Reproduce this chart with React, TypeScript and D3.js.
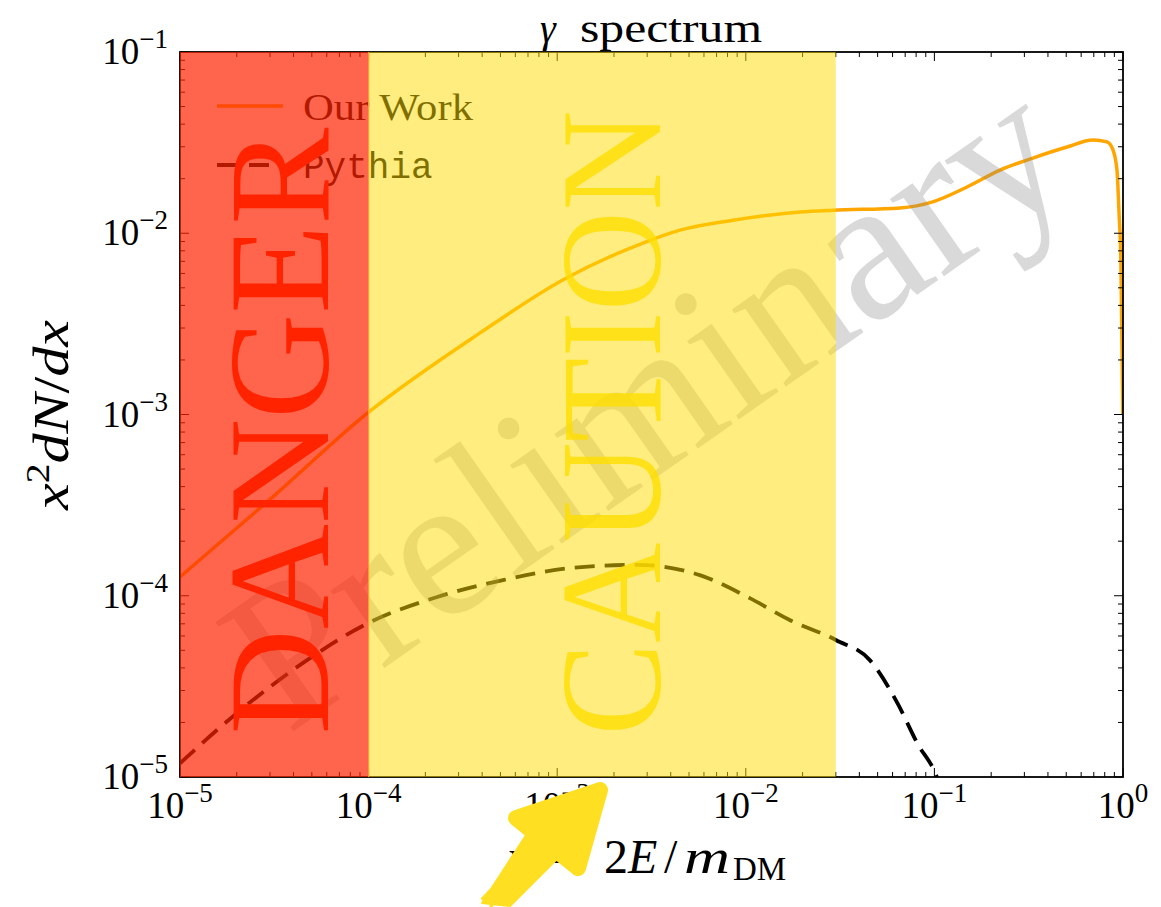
import React from "react";
import * as d3 from "d3";

// Photon spectrum, x^2 dN/dx against x = 2E/m_DM
const ourWorkX = [1e-5, 3e-5, 1e-4, 3.9e-4, 1.07e-3, 2.85e-3, 4.48e-3, 8.55e-3, 1.94e-2, 2.9e-2, 6.58e-2, 9.8e-2, 0.149, 0.223, 0.333, 0.505, 0.693, 0.822, 0.885, 0.929, 0.953, 0.975, 0.998];
const ourWorkY = [1.27e-4, 3.4e-4, 1.03e-3, 2.82e-3, 5.52e-3, 8.83e-3, 1.04e-2, 1.18e-2, 1.31e-2, 1.34e-2, 1.38e-2, 1.49e-2, 1.8e-2, 2.23e-2, 2.6e-2, 2.99e-2, 3.27e-2, 3.19e-2, 2.88e-2, 2.23e-2, 1.29e-2, 6.86e-3, 1.0e-3];

const pythiaX = [1e-5, 2e-5, 4.49e-5, 1e-4, 2.31e-4, 5.16e-4, 1.17e-3, 2.65e-3, 5.7e-3, 1.05e-2, 1.71e-2, 3.0e-2, 4.56e-2, 6.4e-2, 8.1e-2, 0.103, 0.115];
const pythiaY = [1.19e-5, 2.25e-5, 4.26e-5, 7.08e-5, 9.84e-5, 1.22e-4, 1.42e-4, 1.48e-4, 1.3e-4, 9.7e-5, 7.35e-5, 5.7e-5, 4.4e-5, 2.53e-5, 1.54e-5, 1.0e-5, 7e-6];

const xTickValues = [1e-5, 1e-4, 1e-3, 1e-2, 1e-1, 1];
const xTickExponents = ["−5", "−4", "−3", "−2", "−1", "0"];
const yTickValues = [1e-5, 1e-4, 1e-3, 1e-2, 1e-1];
const yTickExponents = ["−5", "−4", "−3", "−2", "−1"];

// shaded bands [from, to]
const dangerBand = [1e-5, 1e-4];
const cautionBand = [1e-4, 3e-2];

const W = 1161;
const H = 907;
const left = 180;
const right = 1123;
const top = 52;
const bottom = 777;

const serif = "'Liberation Serif', 'Times New Roman', serif";
const mono = "'Liberation Mono', 'DejaVu Sans Mono', monospace";

function minorTicks(lo: number, hi: number) {
  const out: number[] = [];
  for (let e = lo; e < hi; e++) {
    for (let m = 2; m <= 9; m++) out.push(m * Math.pow(10, e));
  }
  return out;
}

export default function App() {
  const x = d3.scaleLog().domain([1e-5, 1]).range([left, right]);
  const y = d3.scaleLog().domain([1e-5, 1e-1]).range([bottom, top]);

  const line = d3
    .line<[number, number]>()
    .x((d) => x(d[0]))
    .y((d) => y(d[1]))
    .curve(d3.curveMonotoneX);

  const ourWork = line(ourWorkX.map((v, i) => [v, ourWorkY[i]] as [number, number])) || "";
  const pythia = line(pythiaX.map((v, i) => [v, pythiaY[i]] as [number, number])) || "";

  const xMinor = minorTicks(-5, 0);
  const yMinor = minorTicks(-5, -1);
  const major = 9;
  const minor = 5;

  return (
    <svg
      width={W}
      height={H}
      viewBox={`0 0 ${W} ${H}`}
      style={{ position: "absolute", left: 0, top: 0, background: "#fff" }}
    >
      <defs>
        <clipPath id="plotArea">
          <rect x={left} y={top} width={right - left} height={bottom - top} />
        </clipPath>
      </defs>
      <rect x={0} y={0} width={W} height={H} fill="#fff" />

      {/* curves */}
      <g clipPath="url(#plotArea)">
        <path d={ourWork} fill="none" stroke="#ffa500" strokeWidth={3.5} strokeLinejoin="round" />
        <path d={pythia} fill="none" stroke="#000" strokeWidth={3.8} strokeDasharray="20,10" />
      </g>

      {/* watermark */}
      <text
        transform="translate(684,458) rotate(-35)"
        textAnchor="middle"
        fontFamily={serif}
        fontSize={205}
        fill="#808080"
        fillOpacity={0.3}
      >
        Preliminary
      </text>

      {/* frame and ticks */}
      <g stroke="#000" strokeWidth={1}>
        {xTickValues.map((v) => (
          <g key={"xM" + v}>
            <line x1={x(v)} x2={x(v)} y1={bottom} y2={bottom - major} />
            <line x1={x(v)} x2={x(v)} y1={top} y2={top + major} />
          </g>
        ))}
        {xMinor.map((v) => (
          <g key={"xm" + v}>
            <line x1={x(v)} x2={x(v)} y1={bottom} y2={bottom - minor} />
            <line x1={x(v)} x2={x(v)} y1={top} y2={top + minor} />
          </g>
        ))}
        {yTickValues.map((v) => (
          <g key={"yM" + v}>
            <line x1={left} x2={left + major} y1={y(v)} y2={y(v)} />
            <line x1={right} x2={right - major} y1={y(v)} y2={y(v)} />
          </g>
        ))}
        {yMinor.map((v) => (
          <g key={"ym" + v}>
            <line x1={left} x2={left + minor} y1={y(v)} y2={y(v)} />
            <line x1={right} x2={right - minor} y1={y(v)} y2={y(v)} />
          </g>
        ))}
      </g>
      <rect x={left} y={top} width={right - left} height={bottom - top} fill="none" stroke="#000" strokeWidth={1.8} />

      {/* legend */}
      <line x1={217} x2={283} y1={106} y2={106} stroke="#ffa500" strokeWidth={3.5} />
      <text x={303} y={120} fontFamily={serif} fontSize={38} textLength={170} lengthAdjust="spacingAndGlyphs" fill="#000">
        Our Work
      </text>
      <line x1={217} x2={283} y1={165} y2={165} stroke="#000" strokeWidth={3.8} strokeDasharray="20,12" />
      <text x={303} y={178} fontFamily={mono} fontSize={36} fill="#000">
        Pythia
      </text>

      {/* shaded bands */}
      <rect
        x={x(dangerBand[0])}
        y={top}
        width={x(dangerBand[1]) - x(dangerBand[0])}
        height={bottom - top}
        fill="#ff2300"
        fillOpacity={0.7}
      />
      <rect
        x={x(cautionBand[0])}
        y={top}
        width={x(cautionBand[1]) - x(cautionBand[0])}
        height={bottom - top}
        fill="#ffdd00"
        fillOpacity={0.5}
      />
      <line x1={x(1e-4)} x2={x(1e-4)} y1={top} y2={bottom} stroke="#ff9a30" strokeWidth={1.2} />

      <text
        transform="translate(328,431) rotate(-90)"
        textAnchor="middle"
        fontFamily={serif}
        fontSize={145}
        textLength={607}
        lengthAdjust="spacingAndGlyphs"
        fill="#ff2300"
      >
        DANGER
      </text>
      <text
        transform="translate(660,423) rotate(-90)"
        textAnchor="middle"
        fontFamily={serif}
        fontSize={145}
        textLength={625}
        lengthAdjust="spacingAndGlyphs"
        fill="#ffdd00"
        fillOpacity={0.8}
      >
        CAUTION
      </text>

      {/* tick labels */}
      {xTickValues.map((v, i) => (
        <text key={"xl" + v} x={x(v)} y={818} textAnchor="middle" fontFamily={serif} fontSize={37} fill="#000">
          <tspan>10</tspan>
          <tspan dy={-16} fontSize={27}>
            {xTickExponents[i]}
          </tspan>
        </text>
      ))}
      {yTickValues.map((v, i) => (
        <text key={"yl" + v} x={168} y={y(v) + 12} textAnchor="end" fontFamily={serif} fontSize={37} fill="#000">
          <tspan>10</tspan>
          <tspan dy={-16} fontSize={27}>
            {yTickExponents[i]}
          </tspan>
        </text>
      ))}

      {/* title */}
      <text y={42} fontFamily={serif} fontSize={40} fill="#000">
        <tspan x={540} fontStyle="italic">γ</tspan>
        <tspan x={580} textLength={182} lengthAdjust="spacingAndGlyphs">spectrum</tspan>
      </text>

      {/* axis labels */}
      <text y={873} fontFamily={serif} fontSize={48} fill="#000">
        <tspan x={507} fontStyle="italic">x</tspan>
        <tspan x={552}>=</tspan>
        <tspan x={604}>2</tspan>
        <tspan x={628} fontStyle="italic">E</tspan>
        <tspan x={664}>/</tspan>
        <tspan x={684} fontStyle="italic" textLength={46} lengthAdjust="spacingAndGlyphs">m</tspan>
        <tspan x={733} dy={7} fontSize={33}>DM</tspan>
      </text>
      <text
        transform="translate(68,415) rotate(-90)"
        textAnchor="middle"
        fontFamily={serif}
        fontSize={50}
        fill="#000"
        textLength={190}
        lengthAdjust="spacingAndGlyphs"
      >
        <tspan fontStyle="italic">x</tspan>
        <tspan dy={-19} fontSize={33}>2</tspan>
        <tspan dy={19} fontStyle="italic">dN</tspan>
        <tspan>/</tspan>
        <tspan fontStyle="italic">dx</tspan>
      </text>

      {/* pointer */}
      <g fill="#ffdf22" stroke="#ffdf22" strokeLinejoin="round">
        <polygon points="516,818 600,790 578,868" strokeWidth={16} />
        <polygon points="532,826 564,852 510,906 482,903" strokeWidth={2} />
        <line x1={522} x2={482} y1={858} y2={900} strokeWidth={4} />
        <line x1={532} x2={490} y1={866} y2={907} strokeWidth={3} />
      </g>
    </svg>
  );
}
